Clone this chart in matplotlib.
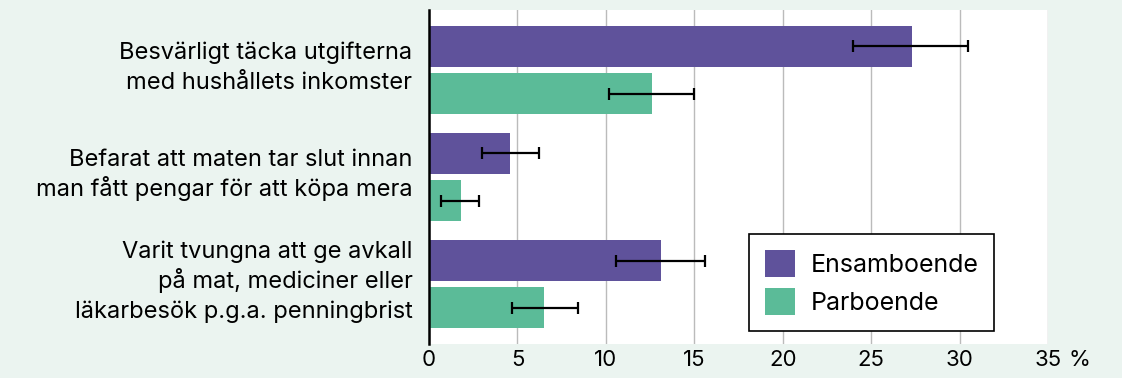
import numpy as np
import matplotlib.pyplot as plt
from matplotlib.patches import Patch

categories = [
    "Besvärligt täcka utgifterna\nmed hushållets inkomster",
    "Befarat att maten tar slut innan\nman fått pengar för att köpa mera",
    "Varit tvungna att ge avkall\npå mat, mediciner eller\nläkarbesök p.g.a. penningbrist",
]
series_names = ["Ensamboende", "Parboende"]
ensam = [27.3, 4.6, 13.1]
ensam_lo = [24.0, 3.0, 10.6]
ensam_hi = [30.5, 6.2, 15.6]
par = [12.6, 1.8, 6.5]
par_lo = [10.2, 0.7, 4.7]
par_hi = [15.0, 2.8, 8.4]
xticks = [0, 5, 10, 15, 20, 25, 30, 35]

bg = "#ebf4f0"
purple = "#5f529b"
green = "#5bbb98"

plt.rcParams['font.family'] = ['Inter', 'DejaVu Sans']

fig = plt.figure(figsize=(11.22, 3.78), dpi=100, facecolor=bg)
ax = fig.add_axes([0.3824, 0.0899, 0.9340 - 0.3824, 0.9735 - 0.0899])
ax.set_facecolor("white")

y = np.arange(len(categories))
h = 0.383
off = 0.22

def err(v, lo, hi):
    v = np.array(v); return [v - np.array(lo), np.array(hi) - v]

ax.barh(y - off, ensam, height=h, color=purple, zorder=2)
ax.barh(y + off, par, height=h, color=green, zorder=2)
ekw = dict(fmt="none", ecolor="black", elinewidth=1.6, capsize=4.5, capthick=1.6, zorder=3)
ax.errorbar(ensam, y - off, xerr=err(ensam, ensam_lo, ensam_hi), **ekw)
ax.errorbar(par, y + off, xerr=err(par, par_lo, par_hi), **ekw)

ax.set_xlim(0, 35)
ax.set_ylim(2.56, -0.56)
ax.set_xticks(xticks)
ax.set_xticklabels([str(t) for t in xticks])
ax.annotate("%", xy=(35, 0), xycoords=("data", "axes fraction"),
            xytext=(15, -4.5), textcoords="offset points",
            ha="left", va="top", fontsize=16)
ax.tick_params(axis="x", length=0, pad=4.5, labelsize=16)

# category labels, one line at a time so every line gets the same spacing
ax.set_yticks(y)
ax.set_yticklabels([])
ax.tick_params(axis="y", length=0)
px = 0.72  # points per pixel at dpi 100
line_h = 30
for yi, cat in zip(y, categories):
    lines = cat.split("\n")
    n = len(lines)
    for j, line in enumerate(lines):
        dy = -((j - (n - 1) / 2) * line_h + 4) * px
        ax.annotate(line, xy=(0, yi), xycoords=("axes fraction", "data"),
                    xytext=(-12, dy), textcoords="offset points",
                    ha="right", va="baseline", fontsize=17)

ax.grid(axis="x", color="#bbbbbb", linewidth=1.0, zorder=0)
ax.set_axisbelow(True)
for s in ["top", "right", "bottom"]:
    ax.spines[s].set_visible(False)
ax.spines["left"].set_linewidth(1.8)
ax.spines["left"].set_zorder(4)

handles = [Patch(facecolor=purple, label=series_names[0]),
           Patch(facecolor=green, label=series_names[1])]
leg = ax.legend(handles=handles, loc="lower left", bbox_to_anchor=(0.517, 0.039),
                fontsize=18, frameon=True, fancybox=False, edgecolor="black",
                framealpha=1, handlelength=1.2, handleheight=1.25,
                handletextpad=0.6, borderpad=0.65, borderaxespad=0,
                labelspacing=0.45)
leg.get_frame().set_linewidth(1.2)

fig.savefig("out.png", dpi=100, facecolor=bg)
